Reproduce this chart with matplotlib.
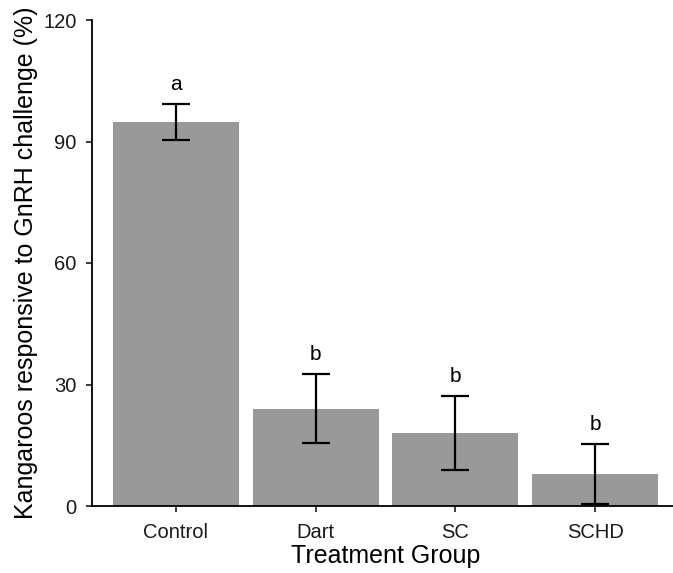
import matplotlib
matplotlib.use("Agg")
import matplotlib.pyplot as plt

plt.rcParams['font.family'] = ['Liberation Sans', 'DejaVu Sans']

groups = ["Control", "Dart", "SC", "SCHD"]
response_pct = [94.9, 24.0, 18.0, 8.0]
err_low = [90.4, 15.6, 8.8, 0.6]
err_high = [99.3, 32.6, 27.2, 15.3]
letters = ["a", "b", "b", "b"]
y_ticks = [0, 30, 60, 90, 120]

fig = plt.figure(figsize=(6.73, 5.73), dpi=100)
# the panel runs slightly past the right edge of the canvas
ax = fig.add_axes([92 / 673, 67 / 573, (679 - 92) / 673, (553 - 67) / 573])

x = list(range(1, len(groups) + 1))
ax.bar(x, response_pct, width=0.9, color="#999999", zorder=1)

lower = [m - lo for m, lo in zip(response_pct, err_low)]
upper = [hi - m for m, hi in zip(response_pct, err_high)]
ax.errorbar(x, response_pct, yerr=[lower, upper], fmt="none", ecolor="black",
            elinewidth=1.6, capsize=10, capthick=1.6, zorder=2)

for xi, hi, lab in zip(x, err_high, letters):
    ax.text(xi, hi + 4.8, lab, ha="center", va="center", fontsize=15, color="black")

ax.set_xlim(0.4, 4.6)
ax.set_ylim(0, 120)
ax.set_xticks(x)
ax.set_xticklabels(groups)
ax.set_yticks(y_ticks)
ax.tick_params(axis="both", direction="out", length=4, width=1.2, labelsize=14.5,
               colors="#1a1a1a")
ax.tick_params(axis="x", pad=8)
ax.tick_params(axis="y", pad=7)

for side in ["top", "right"]:
    ax.spines[side].set_visible(False)
for side in ["left", "bottom"]:
    ax.spines[side].set_linewidth(1.3)

ax.set_xlabel("Treatment Group", fontsize=18, labelpad=1.5)
ax.set_ylabel("Kangaroos responsive to GnRH challenge (%)", fontsize=18, labelpad=4)

fig.savefig("out.png", dpi=100)
